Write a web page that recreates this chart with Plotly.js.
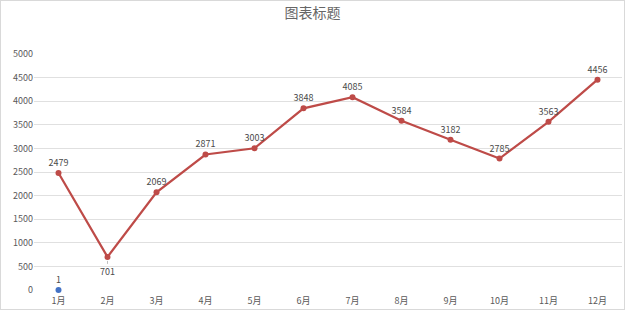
<!DOCTYPE html>
<html>
<head>
<meta charset="utf-8">
<script src="https://cdn.plot.ly/plotly-3.0.1.min.js"></script>
<style>
html,body{margin:0;padding:0;background:#fff;}
#chart{width:625px;height:310px;box-sizing:border-box;border:1px solid #d9d9d9;}
</style>
</head>
<body>
<div id="chart"></div>
<script>
var months = ['1月','2月','3月','4月','5月','6月','7月','8月','9月','10月','11月','12月'];
var salesValues = [2479, 701, 2069, 2871, 3003, 3848, 4085, 3584, 3182, 2785, 3563, 4456];
var secondCats = ['1月'];
var secondValues = [1];
var yTicks = [0,500,1000,1500,2000,2500,3000,3500,4000,4500,5000];
var belowIndex = 1; // label drawn below the point with a leader line

var FONT = '"Noto Sans CJK SC", "Noto Sans", sans-serif';

var texts = salesValues.map(function(v,i){ return i === belowIndex ? '' : String(v); });

var trace1 = {
  x: months, y: salesValues, type: 'scatter', mode: 'lines+markers+text',
  line: {color: '#BE4B48', width: 2.25},
  marker: {color: '#BE4B48', size: 6},
  text: texts, textposition: 'top center',
  textfont: {family: FONT, size: 9, color: '#4a4a4a'},
  hoverinfo: 'x+y', showlegend: false, cliponaxis: false
};
var trace2 = {
  x: secondCats, y: secondValues, type: 'scatter', mode: 'markers+text',
  marker: {color: '#4472C4', size: 6},
  text: secondValues.map(String), textposition: 'top center',
  textfont: {family: FONT, size: 9, color: '#4a4a4a'},
  showlegend: false, cliponaxis: false
};

var layout = {
  width: 623, height: 308,
  margin: {l: 32.5, r: 1.5, t: 53, b: 19},
  paper_bgcolor: '#fff', plot_bgcolor: '#fff',
  title: {text: '图表标题', font: {family: FONT, size: 14, color: '#666666'}, x: 0.5, xanchor: 'center', y: 0.962, yanchor: 'middle'},
  xaxis: {
    type: 'category', categoryorder: 'array', categoryarray: months,
    range: [-0.5, 11.5], showgrid: false, zeroline: false, showline: false,
    ticks: '', ticklabelstandoff: 4, tickfont: {family: FONT, size: 9, color: '#595959'}, fixedrange: true
  },
  yaxis: {
    range: [0, 5000], tickvals: yTicks, ticktext: yTicks.map(String),
    showgrid: true, gridcolor: '#e0e0e0', gridwidth: 1, zeroline: false, showline: false,
    ticks: '', tickfont: {family: FONT, size: 9, color: '#595959'}, fixedrange: true
  },
  annotations: [{
    x: months[belowIndex], y: salesValues[belowIndex], xref: 'x', yref: 'y',
    text: String(salesValues[belowIndex]), showarrow: true, arrowhead: 0, arrowwidth: 1,
    arrowcolor: '#bfbfbf', ax: 0, ay: 15, standoff: 4,
    font: {family: FONT, size: 9, color: '#4a4a4a'}
  }]
};

Plotly.newPlot('chart', [trace1, trace2], layout, {displayModeBar: false, staticPlot: true});
</script>
</body>
</html>
